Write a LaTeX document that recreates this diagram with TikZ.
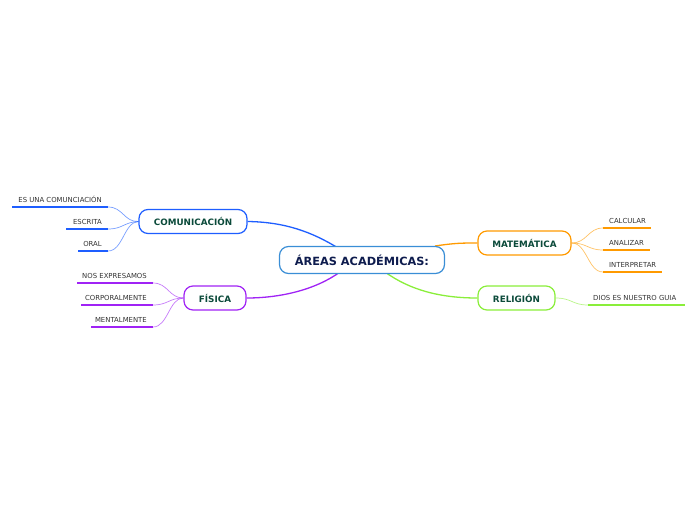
\documentclass[tikz,border=0pt]{standalone}
\usepackage{fontspec}
\setmainfont{DejaVu Sans}
\definecolor{cblue}{HTML}{1E5EFF}
\definecolor{cpurple}{HTML}{A023F5}
\definecolor{corange}{HTML}{FF9A00}
\definecolor{cgreen}{HTML}{8AEE3A}
\definecolor{ccenter}{HTML}{3A8ED6}
\definecolor{cnavy}{HTML}{0E1C4E}
\definecolor{cbranch}{HTML}{0B4A3A}
\definecolor{cleaf}{HTML}{333333}
\tikzset{
  centerbox/.style={draw=ccenter, line width=1.2pt, rounded corners=9pt, fill=white,
    font=\bfseries\fontsize{11.3}{13}\selectfont, text=cnavy, minimum width=165pt, minimum height=27pt, inner sep=0pt},
  branchbox/.style={line width=1.2pt, rounded corners=9pt, fill=white,
    font=\bfseries\fontsize{8.8}{10}\selectfont, text=cbranch, minimum height=24pt, inner sep=0pt},
  leaftext/.style={font=\fontsize{6.9}{8}\selectfont, text=cleaf, inner sep=0pt},
  mainlink/.style={line width=1.3pt},
  leaflink/.style={line width=0.7pt, opacity=0.6},
  uline/.style={line width=2pt},
}
\begin{document}
\begin{tikzpicture}[x=1pt,y=-1pt]
\useasboundingbox (0,0) rectangle (696,520);

\coordinate (cbt) at (338,248);
\coordinate (cpb) at (340,272);
\coordinate (cor) at (435,246);
\coordinate (cgr) at (385,272);

% branch boxes
\node[branchbox, draw=cblue, minimum width=108pt] (com) at (193,221.5) {COMUNICACIÓN};
\node[branchbox, draw=cpurple, minimum width=62pt] (fis) at (215,298) {FÍSICA};
\node[branchbox, draw=corange, minimum width=93pt] (mat) at (524.5,243) {MATEMÁTICA};
\node[branchbox, draw=cgreen, minimum width=77pt] (rel) at (516.5,298) {RELIGIÓN};

\draw[mainlink, cblue] (cbt) .. controls (312,232) and (285,222) .. (com.east);
\draw[mainlink, cpurple] (cpb) .. controls (315,290) and (280,298) .. (fis.east);
\draw[mainlink, corange] (cor) .. controls (455,243) and (462,243) .. (mat.west);
\draw[mainlink, cgreen] (cgr) .. controls (410,290) and (440,298) .. (rel.west);

\node[centerbox] (center) at (362,260) {ÁREAS ACADÉMICAS:};

% COMUNICACIÓN leaves
\coordinate (l1a) at (12,207); \coordinate (l1b) at (108,207);
\coordinate (l2a) at (66,229); \coordinate (l2b) at (108,229);
\coordinate (l3a) at (78,251); \coordinate (l3b) at (108,251);
\node[leaftext, anchor=base east] (t1) at (102,202) {ES UNA COMUNCIACIÓN};
\node[leaftext, anchor=base east] (t2) at (102,224) {ESCRITA};
\node[leaftext, anchor=base east] (t3) at (102,246) {ORAL};
\draw[uline, cblue] (l1a) -- (l1b);
\draw[uline, cblue] (l2a) -- (l2b);
\draw[uline, cblue] (l3a) -- (l3b);
\draw[leaflink, cblue] (com.west) .. controls (124,222) and (123,207) .. (l1b);
\draw[leaflink, cblue] (com.west) .. controls (124,222) and (123,229) .. (l2b);
\draw[leaflink, cblue] (com.west) .. controls (124,222) and (123,251) .. (l3b);

% FÍSICA leaves
\coordinate (f1a) at (77,283); \coordinate (f1b) at (153,283);
\coordinate (f2a) at (81,305); \coordinate (f2b) at (153,305);
\coordinate (f3a) at (91,327); \coordinate (f3b) at (153,327);
\node[leaftext, anchor=base east] (ft1) at (147,278) {NOS EXPRESAMOS};
\node[leaftext, anchor=base east] (ft2) at (147,300) {CORPORALMENTE};
\node[leaftext, anchor=base east] (ft3) at (147,322) {MENTAL\raisebox{-0.6pt}{MENTE}};
\draw[uline, cpurple] (f1a) -- (f1b);
\draw[uline, cpurple] (f2a) -- (f2b);
\draw[uline, cpurple] (f3a) -- (f3b);
\draw[leaflink, cpurple] (fis.west) .. controls (169,298) and (168,283) .. (f1b);
\draw[leaflink, cpurple] (fis.west) .. controls (169,298) and (168,305) .. (f2b);
\draw[leaflink, cpurple] (fis.west) .. controls (169,298) and (168,327) .. (f3b);

% MATEMÁTICA leaves
\coordinate (m1a) at (603,228); \coordinate (m1b) at (651,228);
\coordinate (m2a) at (603,250); \coordinate (m2b) at (650,250);
\coordinate (m3a) at (603,272); \coordinate (m3b) at (662,272);
\node[leaftext, anchor=base west] (mt1) at (609,223) {CALCULAR};
\node[leaftext, anchor=base west] (mt2) at (609,245) {ANALIZAR};
\node[leaftext, anchor=base west] (mt3) at (609,267) {INTERPRETAR};
\draw[uline, corange] (m1a) -- (m1b);
\draw[uline, corange] (m2a) -- (m2b);
\draw[uline, corange] (m3a) -- (m3b);
\draw[leaflink, corange] (mat.east) .. controls (587,243) and (588,228) .. (m1a);
\draw[leaflink, corange] (mat.east) .. controls (587,243) and (588,250) .. (m2a);
\draw[leaflink, corange] (mat.east) .. controls (587,243) and (588,272) .. (m3a);

% RELIGIÓN leaf
\coordinate (r1a) at (588,305); \coordinate (r1b) at (685,305);
\node[leaftext, anchor=base west] (rt1) at (593,300) {DIOS ES NUESTRO GUIA};
\draw[uline, cgreen] (r1a) -- (r1b);
\draw[leaflink, cgreen] (rel.east) .. controls (572,298) and (572,305) .. (r1a);
\end{tikzpicture}
\end{document}
